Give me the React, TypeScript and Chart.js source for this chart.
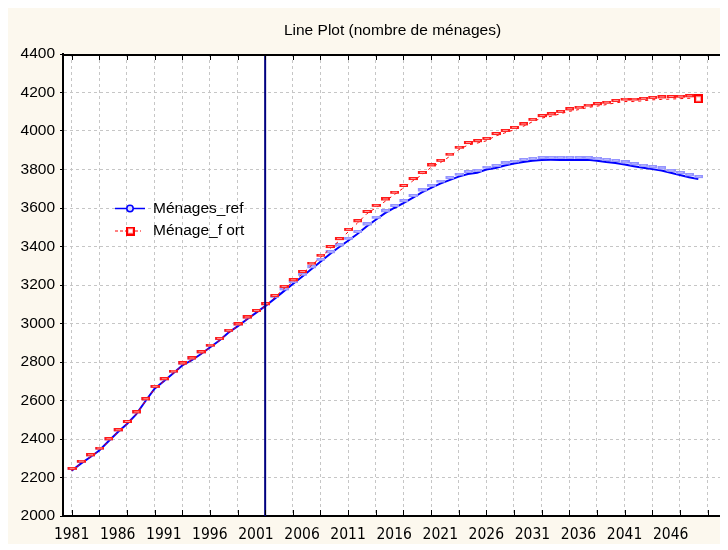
import React, { useEffect, useRef } from "react";
import { Chart, registerables } from "chart.js";

Chart.register(...registerables);

// ---------------- data ----------------
const chartTitle = "Line Plot (nombre de ménages)";
const seriesNames = ["Ménages_ref", "Ménage_f ort"];

const years = [
  1981, 1982, 1983, 1984, 1985, 1986, 1987, 1988, 1989, 1990,
  1991, 1992, 1993, 1994, 1995, 1996, 1997, 1998, 1999, 2000,
  2001, 2002, 2003, 2004, 2005, 2006, 2007, 2008, 2009, 2010,
  2011, 2012, 2013, 2014, 2015, 2016, 2017, 2018, 2019, 2020,
  2021, 2022, 2023, 2024, 2025, 2026, 2027, 2028, 2029, 2030,
  2031, 2032, 2033, 2034, 2035, 2036, 2037, 2038, 2039, 2040,
  2041, 2042, 2043, 2044, 2045, 2046, 2047, 2048, 2049,
];

// 1981 - 2002 (observed, common to both series)
const history = [
  2235, 2272, 2305, 2340, 2388, 2435, 2478, 2528, 2596, 2661,
  2700, 2740, 2782, 2808, 2840, 2875, 2910, 2952, 2985, 3021,
  3055, 3090,
];

// 2003 - 2049
const refProjection = [
  3128, 3167, 3205, 3243, 3282, 3321, 3360, 3396, 3430, 3465,
  3504, 3539, 3573, 3600, 3625, 3652, 3681, 3705, 3727, 3745,
  3763, 3777, 3783, 3800, 3808, 3821, 3831, 3839, 3845, 3849,
  3850, 3850, 3850, 3850, 3850, 3846, 3839, 3834, 3826, 3817,
  3809, 3802, 3795, 3783, 3771, 3760, 3750,
];

const fortProjection = [
  3133, 3180, 3214, 3257, 3301, 3342, 3387, 3428, 3476, 3521,
  3569, 3601, 3634, 3669, 3704, 3740, 3772, 3811, 3835, 3867,
  3903, 3927, 3937, 3949, 3974, 3990, 4006, 4024, 4048, 4067,
  4076, 4089, 4102, 4111, 4122, 4129, 4137, 4146, 4153, 4153,
  4157, 4162, 4164, 4166, 4168, 4170, 4167,
];

const menagesRef = [...history, ...refProjection];
const menageFort = [...history, ...fortProjection];

const yTicks = [2000, 2200, 2400, 2600, 2800, 3000, 3200, 3400, 3600, 3800, 4000, 4200, 4400];
const xLabelYears = [1981, 1986, 1991, 1996, 2001, 2006, 2011, 2016, 2021, 2026, 2031, 2036, 2041, 2046];
const xGridYears = [
  1981, 1984, 1987, 1990, 1993, 1996, 1999, 2002, 2005, 2008, 2011, 2014,
  2017, 2020, 2023, 2026, 2029, 2032, 2035, 2038, 2041, 2044, 2047, 2050,
];
const markerYear = 2002;

// ---------------- styling ----------------
const FONT = '"Liberation Sans", Arial, Helvetica, sans-serif';
const NARROW = '"Liberation Sans Narrow", "Arial Narrow", "DejaVu Sans Condensed", "Liberation Sans", sans-serif';
const CREAM = "#fcf8ee";
const GRID = "#c6c6c6";

function makeDash(fill: string, inner: string, top: number) {
  const c = document.createElement("canvas");
  c.width = 10;
  c.height = 8;
  const g = c.getContext("2d")!;
  g.fillStyle = fill;
  g.fillRect(1, top, 9, 3);
  g.fillStyle = inner;
  g.fillRect(3, top + 1, 5, 1);
  return c;
}

function makeSquare() {
  const c = document.createElement("canvas");
  c.width = 9;
  c.height = 9;
  const g = c.getContext("2d")!;
  g.fillStyle = "#ff0000";
  g.fillRect(0, 0, 9, 9);
  g.fillStyle = "#ffb8b8";
  g.fillRect(2, 2, 5, 5);
  g.fillStyle = "#ffffff";
  g.fillRect(3, 3, 3, 3);
  return c;
}

export default function App() {
  const ref = useRef<HTMLCanvasElement | null>(null);

  useEffect(() => {
    const canvas = ref.current;
    if (!canvas) return;

    const redDash = makeDash("#ff1a1a", "#ff9a9a", 0);
    const blueDash = makeDash("#9494ff", "#babaff", 0);
    const redSquare = makeSquare();
    const lastIndex = years.length - 1;

    const framePlugin = {
      id: "frame",
      beforeDraw(chart: any) {
        const { ctx, chartArea: a, width, height } = chart;
        ctx.save();
        ctx.fillStyle = CREAM;
        ctx.fillRect(0, 0, width, height);
        ctx.fillStyle = "#ffffff";
        ctx.fillRect(a.left, a.top, a.right - a.left, a.bottom - a.top);
        ctx.restore();
      },
      afterDraw(chart: any) {
        const { ctx, chartArea: a, scales } = chart;
        ctx.save();
        // top border
        ctx.strokeStyle = "#000";
        ctx.lineWidth = 2;
        ctx.beginPath();
        ctx.moveTo(a.left, a.top + 1);
        ctx.lineTo(a.right, a.top + 1);
        ctx.stroke();
        // inward ticks on top and bottom
        ctx.lineWidth = 1;
        for (const yr of xGridYears) {
          const x = Math.round(scales.x.getPixelForValue(yr)) + 0.5;
          ctx.beginPath();
          ctx.moveTo(x, a.top + 1);
          ctx.lineTo(x, a.top + 6);
          ctx.moveTo(x, a.bottom - 1);
          ctx.lineTo(x, a.bottom - 6);
          ctx.stroke();
        }
        // right side small ticks
        for (const v of yTicks) {
          const y = Math.round(scales.y.getPixelForValue(v)) + 0.5;
          ctx.beginPath();
          ctx.moveTo(a.right - 2, y);
          ctx.lineTo(a.right, y);
          ctx.stroke();
        }
        // legend
        const lx = a.left + 52;
        const ly1 = a.top + 154.5;
        const ly2 = a.top + 177;
        ctx.strokeStyle = "#0000ff";
        ctx.lineWidth = 1.5;
        ctx.beginPath();
        ctx.moveTo(lx, ly1);
        ctx.lineTo(lx + 30, ly1);
        ctx.stroke();
        ctx.beginPath();
        ctx.arc(lx + 15, ly1, 3.2, 0, Math.PI * 2);
        ctx.fillStyle = "#dcdcff";
        ctx.fill();
        ctx.lineWidth = 1.5;
        ctx.stroke();

        ctx.strokeStyle = "#ff0000";
        ctx.lineWidth = 1;
        ctx.setLineDash([3, 2]);
        ctx.beginPath();
        ctx.moveTo(lx, ly2);
        ctx.lineTo(lx + 26, ly2);
        ctx.stroke();
        ctx.setLineDash([]);
        ctx.drawImage(redSquare, lx + 11, ly2 - 4.5);

        ctx.fillStyle = "#000";
        ctx.font = `15.5px ${FONT}`;
        ctx.textBaseline = "middle";
        ctx.textAlign = "left";
        ctx.fillText(seriesNames[0], lx + 38, ly1);
        ctx.fillText(seriesNames[1], lx + 38, ly2);
        ctx.restore();
      },
    };

    const chart = new Chart(canvas, {
      type: "line",
      data: {
        datasets: [
          {
            label: "base",
            data: [
              { x: markerYear, y: yTicks[0] },
              { x: markerYear, y: yTicks[yTicks.length - 1] },
            ],
            borderColor: "#000080",
            borderWidth: 2,
            pointRadius: 0,
            order: 0,
          },
          {
            label: seriesNames[1],
            data: years.map((x, i) => ({ x, y: menageFort[i] })),
            borderColor: "#ff0000",
            borderWidth: 1,
            borderDash: [3, 4],
            pointRadius: 4,
            pointStyle: (c: any) => (c.dataIndex === lastIndex ? redSquare : redDash),
            tension: 0,
            order: 1,
          },
          {
            label: seriesNames[0],
            data: years.map((x, i) => ({ x, y: menagesRef[i] })),
            borderColor: "#0000ff",
            borderWidth: 2,
            pointRadius: 4,
            pointStyle: blueDash,
            tension: 0,
            order: 2,
          },
        ],
      },
      options: {
        responsive: false,
        animation: false,
        events: [],
        layout: { padding: 0 },
        plugins: {
          legend: { display: false },
          tooltip: { enabled: false },
          title: {
            display: true,
            text: chartTitle,
            fullSize: false,
            color: "#000",
            font: { family: FONT, size: 15.5, weight: "normal" },
            padding: { top: 13.7, bottom: 13.7 },
          },
        },
        scales: {
          x: {
            type: "linear",
            min: 1980.065,
            max: 2051.57,
            afterBuildTicks: (s: any) => {
              const all = Array.from(new Set([...xGridYears, ...xLabelYears])).sort((p, q) => p - q);
              s.ticks = all.map((v) => ({ value: v }));
            },
            afterFit: (s: any) => {
              s.height = 28;
            },
            grid: {
              color: (c: any) => (c.tick && xGridYears.includes(c.tick.value) ? GRID : "rgba(0,0,0,0)"),
              lineWidth: 1,
              drawTicks: false,
            },
            border: { color: "#000", width: 2, dash: [3, 3] },
            ticks: {
              autoSkip: false,
              maxRotation: 0,
              padding: 10,
              color: "#000",
              font: { family: NARROW, size: 15.5 },
              callback: (v: any) => (xLabelYears.includes(Number(v)) ? String(v) : ""),
            },
          },
          y: {
            type: "linear",
            min: yTicks[0],
            max: yTicks[yTicks.length - 1],
            afterBuildTicks: (s: any) => {
              s.ticks = yTicks.map((v) => ({ value: v }));
            },
            afterFit: (s: any) => {
              s.width = 55;
            },
            grid: {
              color: (c: any) =>
                c.tick && (c.tick.value === yTicks[0] || c.tick.value === yTicks[yTicks.length - 1])
                  ? "rgba(0,0,0,0)"
                  : GRID,
              tickColor: "#000",
              tickLength: 3,
              lineWidth: 1,
            },
            border: { color: "#000", width: 2, dash: [3, 3] },
            ticks: {
              padding: 5,
              color: "#000",
              font: { family: FONT, size: 15.5 },
              callback: (v: any) => String(v),
            },
          },
        },
      },
      plugins: [framePlugin],
    } as any);

    return () => chart.destroy();
  }, []);

  return <canvas ref={ref} width={720} height={536} style={{ display: "block" }} />;
}
